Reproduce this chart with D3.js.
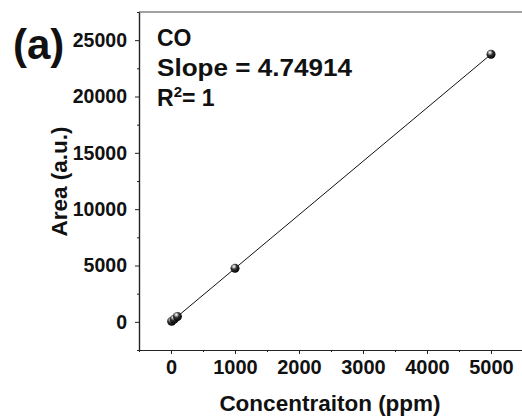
<!DOCTYPE html>
<html><head><meta charset="utf-8">
<script src="https://cdn.jsdelivr.net/npm/d3@7"></script>
<style>
body{margin:0;background:#fff}
text{font-family:"Liberation Sans",Arial,Helvetica,sans-serif;font-weight:bold;fill:#111}
</style>
</head><body>
<svg id="c" width="522" height="417"></svg>
<script>
// ---- data ----
const concentration = [10, 50, 100, 1000, 5000];
const area = [47, 237, 475, 4749, 23746];
const slope = 4.74914;
const xTicks = [0, 1000, 2000, 3000, 4000, 5000];
const xMinor = [-500, 500, 1500, 2500, 3500, 4500, 5500];
const yTicks = [0, 5000, 10000, 15000, 20000, 25000];
const yMinor = [-2500, 2500, 7500, 12500, 17500, 22500, 27500];
const xDomain = [-500, 5500];
const yDomain = [-2500, 27500];

const svg = d3.select("#c");
const L = 139, R = 523, T = 12, B = 350;
const x = d3.scaleLinear().domain(xDomain).range([L, R]);
const y = d3.scaleLinear().domain(yDomain).range([B, T]);
const fmt = d3.format("d");

// gradient for spheres
const defs = svg.append("defs");
const g = defs.append("radialGradient").attr("id", "ball")
  .attr("cx", "0.38").attr("cy", "0.32").attr("r", "0.7").attr("fx", "0.38").attr("fy", "0.3");
g.append("stop").attr("offset", "0%").attr("stop-color", "#ffffff");
g.append("stop").attr("offset", "18%").attr("stop-color", "#bbbbbb");
g.append("stop").attr("offset", "45%").attr("stop-color", "#333333");
g.append("stop").attr("offset", "100%").attr("stop-color", "#000000");

// frame top line
svg.append("line").attr("x1", L).attr("x2", R).attr("y1", T).attr("y2", T)
  .attr("stroke", "#444").attr("stroke-width", 1);

// axes
const xAxis = svg.append("g").attr("transform", `translate(0,${B})`)
  .call(d3.axisBottom(x).tickValues(xTicks).tickFormat(fmt).tickSize(4).tickPadding(6).tickSizeOuter(0));
const xAxisMinor = svg.append("g").attr("transform", `translate(0,${B})`)
  .call(d3.axisBottom(x).tickValues(xMinor).tickSize(2).tickFormat("").tickSizeOuter(0));
const yAxis = svg.append("g").attr("transform", `translate(${L},0)`)
  .call(d3.axisLeft(y).tickValues(yTicks).tickFormat(fmt).tickSize(4).tickPadding(8).tickSizeOuter(0));
const yAxisMinor = svg.append("g").attr("transform", `translate(${L},0)`)
  .call(d3.axisLeft(y).tickValues(yMinor).tickSize(2).tickFormat("").tickSizeOuter(0));

[xAxis, xAxisMinor, yAxis, yAxisMinor].forEach(a => {
  a.selectAll("path.domain").attr("stroke", "#222").attr("stroke-width", 1.2);
  a.selectAll(".tick line").attr("stroke", "#222").attr("stroke-width", 1);
  a.attr("font-family", null).attr("font-size", null);
});
xAxis.selectAll(".tick text").style("font-size", "20px").attr("fill", "#111");
yAxis.selectAll(".tick text").style("font-size", "19.5px").attr("fill", "#111");

// fit line
const x0 = d3.min(concentration), x1 = d3.max(concentration);
svg.append("line")
  .attr("x1", x(x0)).attr("y1", y(slope * x0))
  .attr("x2", x(x1)).attr("y2", y(slope * x1))
  .attr("stroke", "#111").attr("stroke-width", 1);

// points
svg.append("g").selectAll("circle").data(concentration).join("circle")
  .attr("cx", d => x(d)).attr("cy", (d, i) => y(area[i]))
  .attr("r", 4.5).attr("fill", "url(#ball)");

// annotations
svg.append("text").attr("x", 13).attr("y", 59).style("font-size", "42px").text("(a)");
svg.append("text").attr("x", 157).attr("y", 45.5).style("font-size", "23px").text("CO");
svg.append("text").attr("x", 157).attr("y", 76).style("font-size", "23px")
  .attr("textLength", 195).attr("lengthAdjust", "spacingAndGlyphs").text("Slope = 4.74914");
const r2 = svg.append("text").attr("x", 157).attr("y", 106).style("font-size", "23px");
r2.append("tspan").text("R");
r2.append("tspan").attr("dy", -9).style("font-size", "15px").text("2");
r2.append("tspan").attr("dy", 9).text("= 1");

// axis titles
svg.append("text").attr("x", 330).attr("y", 410.5).attr("text-anchor", "middle")
  .style("font-size", "22.5px").text("Concentraiton (ppm)");
svg.append("text").attr("transform", "translate(66.5,181.5) rotate(-90)").attr("text-anchor", "middle")
  .style("font-size", "22.5px").text("Area (a.u.)");
</script>
</body></html>
